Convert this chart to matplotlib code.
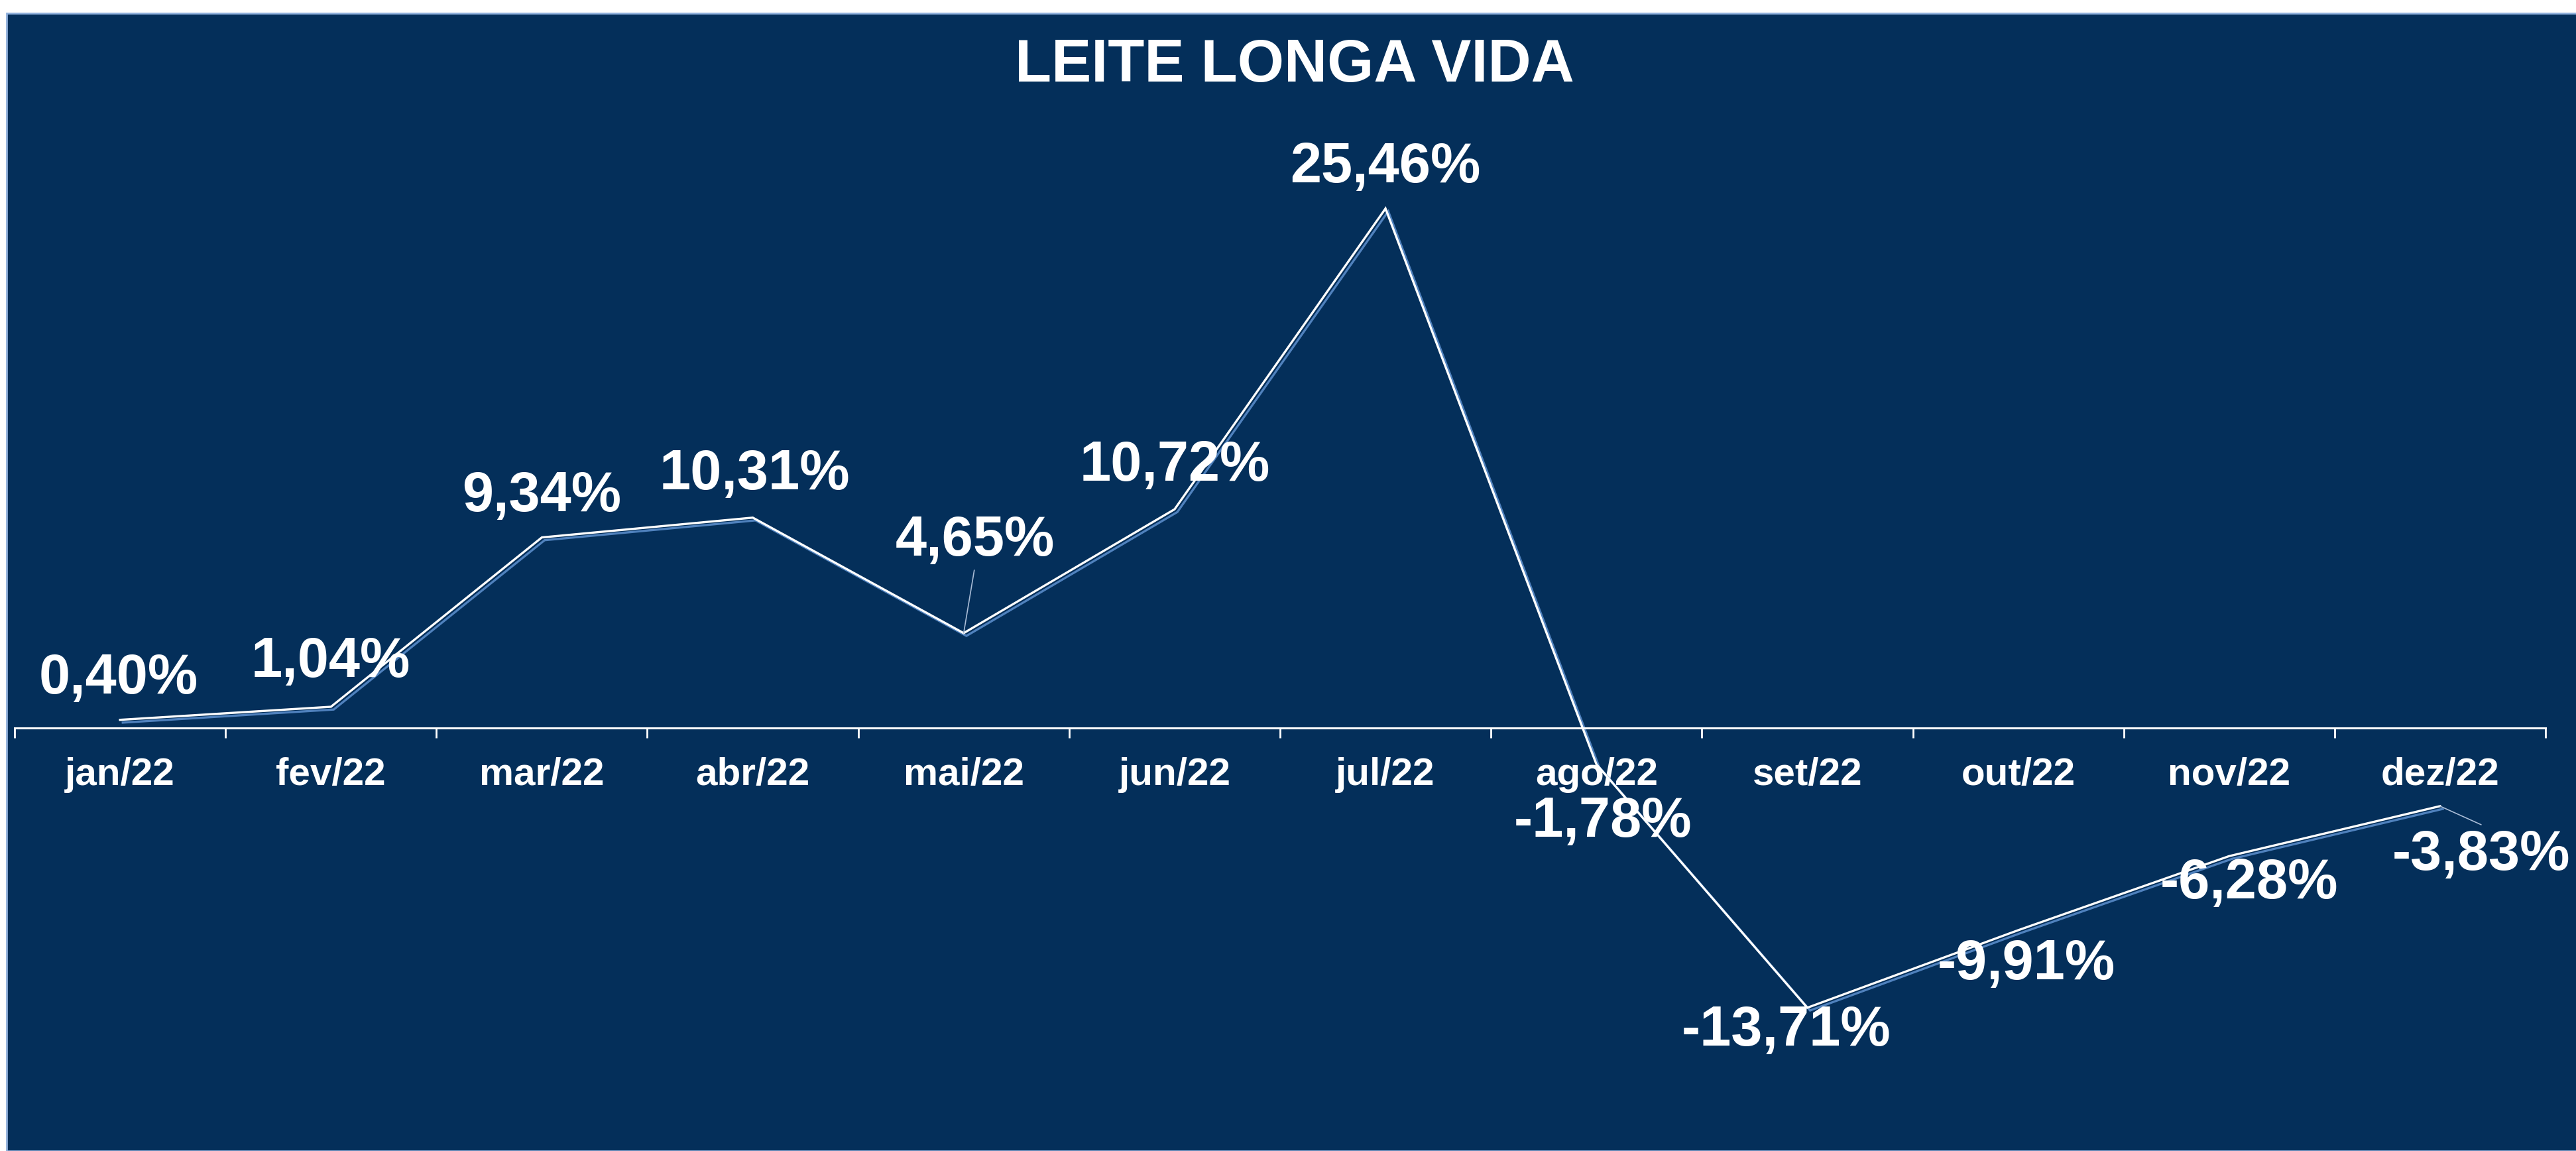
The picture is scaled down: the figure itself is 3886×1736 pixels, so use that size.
import matplotlib
matplotlib.use("Agg")
import matplotlib.pyplot as plt
import matplotlib.patheffects as pe
from matplotlib.patches import Rectangle

meses = ["jan/22", "fev/22", "mar/22", "abr/22", "mai/22", "jun/22",
         "jul/22", "ago/22", "set/22", "out/22", "nov/22", "dez/22"]
variacao = [0.40, 1.04, 9.34, 10.31, 4.65, 10.72,
            25.46, -1.78, -13.71, -9.91, -6.28, -3.83]
titulo = "LEITE LONGA VIDA"

# deslocamento dos rótulos (pixels) em relação ao ponto
offsets = [(-2, 62), (0, 67), (0, 62), (3, 65), (17, 139), (0, 65),
           (0, 62), (10, -87), (-32, -35), (12, -52), (30, -42), (62, -74)]

navy = "#042f5a"
plt.rcParams['font.family'] = ['Liberation Sans', 'DejaVu Sans']

fig = plt.figure(figsize=(38.87, 17.36), dpi=100, facecolor="white")
# fundo azul com borda clara
fig.patches.append(Rectangle((10 / 3887, 0), 1, 1 - 20 / 1736,
                             transform=fig.transFigure, facecolor=navy,
                             edgecolor="#8fb0dc", linewidth=2, zorder=-5))

ax = fig.add_axes([22 / 3887, 0.0144, (3840 - 22) / 3887, 0.8998])
ax.set_facecolor("none")
x = list(range(len(meses)))
ax.plot(x, variacao, color="white", lw=2.4, solid_joinstyle="miter",
        path_effects=[pe.SimpleLineShadow(offset=(3, -3), shadow_color="#4f81bd", alpha=1),
                      pe.Normal()])

ax.set_xlim(-0.5, len(meses) - 0.5)
ax.set_ylim(-19.92, 30.84)

for s in ["top", "right", "left"]:
    ax.spines[s].set_visible(False)
ax.spines["bottom"].set_position(("data", 0))
ax.spines["bottom"].set_color("white")
ax.spines["bottom"].set_linewidth(2.2)
ax.set_yticks([])
ax.set_xticks([i - 0.5 for i in range(len(meses) + 1)])
ax.set_xticklabels([])
ax.set_xticks(x, minor=True)
ax.set_xticklabels(meses, minor=True)
ax.tick_params(axis="x", which="major", direction="out", length=11, width=2, color="white")
ax.tick_params(axis="x", which="minor", length=0, pad=32, labelsize=42, labelcolor="white")
for t in ax.get_xticklabels(minor=True):
    t.set_fontweight("bold")

for i, v in enumerate(variacao):
    txt = f"{v:.2f}%".replace(".", ",")
    dx, dy = offsets[i]
    ax.annotate(txt, (i, v), xytext=(dx, dy), textcoords="offset pixels",
                ha="center", va="center", color="white", fontsize=61, fontweight="bold")

# linhas de chamada
ax.annotate("", (4, 4.65), xytext=(16, 95), textcoords="offset pixels",
            arrowprops=dict(arrowstyle="-", color="#a9bcd6", lw=1.2, shrinkA=0, shrinkB=0))
ax.annotate("", (11, -3.83), xytext=(62, -28), textcoords="offset pixels",
            arrowprops=dict(arrowstyle="-", color="#a9bcd6", lw=1.2, shrinkA=0, shrinkB=0))

fig.text(0.5025, 1 - 100 / 1736, titulo, ha="center", va="center", color="white",
         fontsize=65, fontweight="bold")

fig.savefig("out.png", dpi=100, facecolor=fig.get_facecolor())
